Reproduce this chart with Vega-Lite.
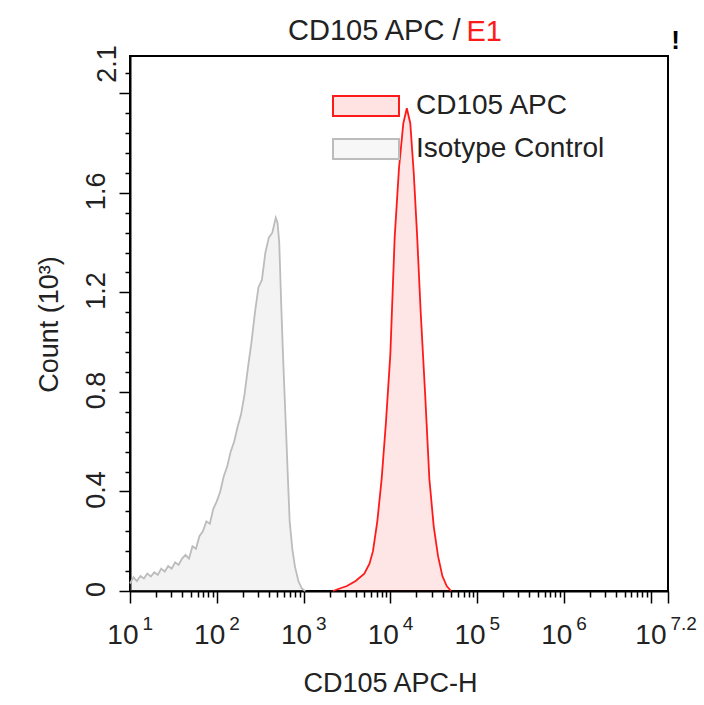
{
  "$schema": "https://vega.github.io/schema/vega-lite/v6.json",
  "width": 538,
  "height": 535,
  "autosize": "none",
  "padding": {"left": 130, "top": 56, "right": 36, "bottom": 114},
  "background": "white",
  "config": {
    "view": {"stroke": "black", "strokeWidth": 2},
    "font": "Liberation Sans"
  },
  "title": {
    "text": "CD105 APC /",
    "anchor": "start",
    "frame": "group",
    "dx": 158,
    "dy": 52,
    "offset": 0,
    "baseline": "alphabetic",
    "font": "Liberation Sans",
    "fontSize": 29,
    "fontWeight": "normal",
    "color": "#222222"
  },
  "data": {
    "values": [
      {"series": "Isotype Control", "intensity": 10, "count": 0.03},
      {"series": "Isotype Control", "intensity": 10.96, "count": 0.055},
      {"series": "Isotype Control", "intensity": 12.02, "count": 0.04},
      {"series": "Isotype Control", "intensity": 13.18, "count": 0.06},
      {"series": "Isotype Control", "intensity": 14.45, "count": 0.05},
      {"series": "Isotype Control", "intensity": 15.85, "count": 0.07},
      {"series": "Isotype Control", "intensity": 17.38, "count": 0.058},
      {"series": "Isotype Control", "intensity": 19.05, "count": 0.075},
      {"series": "Isotype Control", "intensity": 20.89, "count": 0.065},
      {"series": "Isotype Control", "intensity": 22.91, "count": 0.09},
      {"series": "Isotype Control", "intensity": 25.12, "count": 0.078},
      {"series": "Isotype Control", "intensity": 27.54, "count": 0.1},
      {"series": "Isotype Control", "intensity": 30.2, "count": 0.09},
      {"series": "Isotype Control", "intensity": 33.11, "count": 0.115},
      {"series": "Isotype Control", "intensity": 36.31, "count": 0.105},
      {"series": "Isotype Control", "intensity": 39.81, "count": 0.13},
      {"series": "Isotype Control", "intensity": 43.65, "count": 0.145},
      {"series": "Isotype Control", "intensity": 47.86, "count": 0.13},
      {"series": "Isotype Control", "intensity": 52.48, "count": 0.18},
      {"series": "Isotype Control", "intensity": 57.54, "count": 0.17},
      {"series": "Isotype Control", "intensity": 63.1, "count": 0.22},
      {"series": "Isotype Control", "intensity": 69.18, "count": 0.24},
      {"series": "Isotype Control", "intensity": 75.86, "count": 0.28},
      {"series": "Isotype Control", "intensity": 83.18, "count": 0.27},
      {"series": "Isotype Control", "intensity": 91.2, "count": 0.33},
      {"series": "Isotype Control", "intensity": 100, "count": 0.36},
      {"series": "Isotype Control", "intensity": 109.6, "count": 0.4},
      {"series": "Isotype Control", "intensity": 120.2, "count": 0.46},
      {"series": "Isotype Control", "intensity": 131.8, "count": 0.5},
      {"series": "Isotype Control", "intensity": 144.5, "count": 0.56},
      {"series": "Isotype Control", "intensity": 158.5, "count": 0.6},
      {"series": "Isotype Control", "intensity": 173.8, "count": 0.66},
      {"series": "Isotype Control", "intensity": 190.5, "count": 0.71},
      {"series": "Isotype Control", "intensity": 208.9, "count": 0.79},
      {"series": "Isotype Control", "intensity": 229.1, "count": 0.9},
      {"series": "Isotype Control", "intensity": 251.2, "count": 1.0},
      {"series": "Isotype Control", "intensity": 275.4, "count": 1.12},
      {"series": "Isotype Control", "intensity": 302.0, "count": 1.22},
      {"series": "Isotype Control", "intensity": 331.1, "count": 1.25},
      {"series": "Isotype Control", "intensity": 363.1, "count": 1.36},
      {"series": "Isotype Control", "intensity": 398.1, "count": 1.42},
      {"series": "Isotype Control", "intensity": 436.5, "count": 1.44},
      {"series": "Isotype Control", "intensity": 478.6, "count": 1.5},
      {"series": "Isotype Control", "intensity": 501.2, "count": 1.48},
      {"series": "Isotype Control", "intensity": 524.8, "count": 1.4},
      {"series": "Isotype Control", "intensity": 549.5, "count": 1.18},
      {"series": "Isotype Control", "intensity": 575.4, "count": 0.98},
      {"series": "Isotype Control", "intensity": 602.6, "count": 0.8},
      {"series": "Isotype Control", "intensity": 631.0, "count": 0.63},
      {"series": "Isotype Control", "intensity": 660.7, "count": 0.45},
      {"series": "Isotype Control", "intensity": 691.8, "count": 0.28},
      {"series": "Isotype Control", "intensity": 741.3, "count": 0.17},
      {"series": "Isotype Control", "intensity": 794.3, "count": 0.1},
      {"series": "Isotype Control", "intensity": 871.0, "count": 0.04},
      {"series": "Isotype Control", "intensity": 955.0, "count": 0.01},
      {"series": "Isotype Control", "intensity": 1047, "count": 0},
      {"series": "CD105 APC", "intensity": 2188, "count": 0},
      {"series": "CD105 APC", "intensity": 2512, "count": 0.008},
      {"series": "CD105 APC", "intensity": 3162, "count": 0.02},
      {"series": "CD105 APC", "intensity": 3981, "count": 0.04},
      {"series": "CD105 APC", "intensity": 5012, "count": 0.07},
      {"series": "CD105 APC", "intensity": 5754, "count": 0.11},
      {"series": "CD105 APC", "intensity": 6310, "count": 0.16},
      {"series": "CD105 APC", "intensity": 7079, "count": 0.28},
      {"series": "CD105 APC", "intensity": 7943, "count": 0.45},
      {"series": "CD105 APC", "intensity": 8913, "count": 0.68},
      {"series": "CD105 APC", "intensity": 10000, "count": 0.95},
      {"series": "CD105 APC", "intensity": 11220, "count": 1.42},
      {"series": "CD105 APC", "intensity": 12589, "count": 1.7},
      {"series": "CD105 APC", "intensity": 14125, "count": 1.88},
      {"series": "CD105 APC", "intensity": 15488, "count": 1.94},
      {"series": "CD105 APC", "intensity": 16982, "count": 1.88},
      {"series": "CD105 APC", "intensity": 18621, "count": 1.68},
      {"series": "CD105 APC", "intensity": 20417, "count": 1.42},
      {"series": "CD105 APC", "intensity": 22387, "count": 1.12},
      {"series": "CD105 APC", "intensity": 25119, "count": 0.8},
      {"series": "CD105 APC", "intensity": 28184, "count": 0.45},
      {"series": "CD105 APC", "intensity": 31623, "count": 0.26},
      {"series": "CD105 APC", "intensity": 35481, "count": 0.14},
      {"series": "CD105 APC", "intensity": 39811, "count": 0.06},
      {"series": "CD105 APC", "intensity": 44668, "count": 0.02},
      {"series": "CD105 APC", "intensity": 50119, "count": 0}
    ]
  },
  "resolve": {"axis": {"x": "independent", "y": "independent"}},
  "layer": [
    {
      "mark": {"type": "area"},
      "encoding": {
        "x": {
          "field": "intensity",
          "type": "quantitative",
          "scale": {"type": "log", "domain": [10, 15848932], "nice": false},
          "axis": {
            "orient": "bottom",
            "values": [10,20,30,40,50,60,70,80,90,100,200,300,400,500,600,700,800,900,1000,2000,3000,4000,5000,6000,7000,8000,9000,10000,20000,30000,40000,50000,60000,70000,80000,90000,100000,200000,300000,400000,500000,600000,700000,800000,900000,1000000,2000000,3000000,4000000,5000000,6000000,7000000,8000000,9000000,10000000,15848932],
            "labelExpr": "(datum.value > 15000000 || (abs(log(datum.value)/LN10 - round(log(datum.value)/LN10)) < 0.001 && datum.value < 5000000)) ? '10' : ''",
            "tickSize": {"condition": {"test": "datum.value > 15000000 || abs(log(datum.value)/LN10 - round(log(datum.value)/LN10)) < 0.001", "value": 12}, "value": 6},
            "tickColor": "black",
            "tickWidth": 1.5,
            "domainColor": "black",
            "domainWidth": 2,
            "grid": false,
            "labelFont": "Liberation Sans",
            "labelFontSize": 28,
            "labelColor": "#222222",
            "labelAlign": "right",
            "labelBaseline": "alphabetic",
            "labelPadding": 40,
            "labelOffset": {"condition": {"test": "datum.value > 15000000", "value": -2}, "value": 8},
            "labelOverlap": false,
            "labelFlush": false,
            "title": "CD105 APC-H",
            "titleFont": "Liberation Sans",
            "titleFontSize": 27,
            "titleFontWeight": "normal",
            "titleColor": "#222222",
            "titleX": 260,
            "titleY": 100,
            "titleAlign": "center",
            "titleBaseline": "alphabetic"
          }
        },
        "y": {
          "field": "count",
          "type": "quantitative",
          "stack": null,
          "scale": {"domain": [0, 2.15], "nice": false, "zero": true},
          "axis": {
            "orient": "left",
            "values": [0,0.08,0.16,0.24,0.32,0.4,0.48,0.56,0.64,0.72,0.8,0.88,0.96,1.04,1.12,1.2,1.28,1.36,1.44,1.52,1.6,1.68,1.76,1.84,1.92,2.0,2.08,2.1],
            "labelExpr": "abs(datum.value - 2.1) < 0.001 ? '2.1' : ((abs(datum.value*2.5 - round(datum.value*2.5)) < 0.001 && datum.value < 1.99) ? format(datum.value, '.1~f') : '')",
            "tickSize": {"condition": [{"test": "abs(datum.value - 2.1) < 0.001", "value": 0}, {"test": "abs(datum.value*2.5 - round(datum.value*2.5)) < 0.001", "value": 11}], "value": 5},
            "tickColor": "black",
            "tickWidth": 1.5,
            "domainColor": "black",
            "domainWidth": 2,
            "grid": false,
            "labelFont": "Liberation Sans",
            "labelFontSize": 27,
            "labelColor": "#222222",
            "labelAngle": -90,
            "labelAlign": "center",
            "labelBaseline": "alphabetic",
            "labelPadding": 15,
            "labelOffset": {"condition": {"test": "abs(datum.value - 2.1) < 0.001", "value": -5}, "value": -2},
            "labelOverlap": false,
            "labelFlush": false,
            "title": "Count  (10³)",
            "titleFont": "Liberation Sans",
            "titleFontSize": 27,
            "titleFontWeight": "normal",
            "titleColor": "#222222",
            "titleAngle": -90,
            "titleX": -73,
            "titleY": 268,
            "titleAlign": "center",
            "titleBaseline": "alphabetic"
          }
        },
        "color": {
          "field": "series",
          "type": "nominal",
          "scale": {"domain": ["CD105 APC", "Isotype Control"], "range": ["#ff1a1a", "#bcbcbc"]},
          "legend": {
            "orient": "none",
            "legendX": 222,
            "legendY": 36,
            "title": null,
            "padding": 0,
            "symbolType": "M-3.3,-1H3.3V1H-3.3Z",
            "symbolSize": 400,
            "symbolStrokeWidth": 2,
            "labelFont": "Liberation Sans",
            "labelFontSize": 28,
            "labelColor": "#222222",
            "labelOffset": 36,
            "labelLimit": 400,
            "rowPadding": 15,
            "encode": {
              "symbols": {
                "update": {
                  "fill": {"scale": "color", "field": "value"},
                  "fillOpacity": {"value": 0.12},
                  "stroke": {"scale": "color", "field": "value"},
                  "strokeWidth": {"value": 2},
                  "opacity": {"value": 1}
                }
              }
            }
          }
        },
        "fillOpacity": {"condition": {"test": "datum.series == 'Isotype Control'", "value": 0.18}, "value": 0.11}
      }
    },
    {
      "mark": {"type": "line", "strokeWidth": 1.8, "interpolate": "linear"},
      "encoding": {
        "x": {
          "field": "intensity",
          "type": "quantitative",
          "scale": {"type": "log", "domain": [10, 15848932], "nice": false},
          "axis": {
            "orient": "bottom",
            "values": [10, 100, 1000, 10000, 100000, 1000000, 15848932],
            "labelExpr": "datum.value > 15000000 ? '7.2' : format(round(log(datum.value)/LN10), 'd')",
            "domain": false,
            "ticks": false,
            "grid": false,
            "labelFont": "Liberation Sans",
            "labelFontSize": 19,
            "labelColor": "#222222",
            "labelAlign": "left",
            "labelBaseline": "alphabetic",
            "labelPadding": 38,
            "labelOffset": {"condition": {"test": "datum.value > 15000000", "value": 2}, "value": 12},
            "labelOverlap": false,
            "labelFlush": false,
            "title": "E1",
            "titleFont": "Liberation Sans",
            "titleFontSize": 29,
            "titleFontWeight": "normal",
            "titleColor": "#ff1a1a",
            "titleX": 336,
            "titleY": -551,
            "titleAlign": "left",
            "titleBaseline": "alphabetic"
          }
        },
        "y": {
          "field": "count",
          "type": "quantitative",
          "scale": {"domain": [0, 2.15], "nice": false, "zero": true},
          "axis": {
            "orient": "right",
            "domain": false,
            "ticks": false,
            "labels": false,
            "grid": false,
            "title": "!",
            "titleFont": "Liberation Sans",
            "titleFontSize": 26,
            "titleFontWeight": "bold",
            "titleColor": "black",
            "titleAngle": 0,
            "titleX": 7,
            "titleY": -8,
            "titleAlign": "center",
            "titleBaseline": "alphabetic"
          }
        },
        "color": {"field": "series", "type": "nominal"}
      }
    }
  ]
}
